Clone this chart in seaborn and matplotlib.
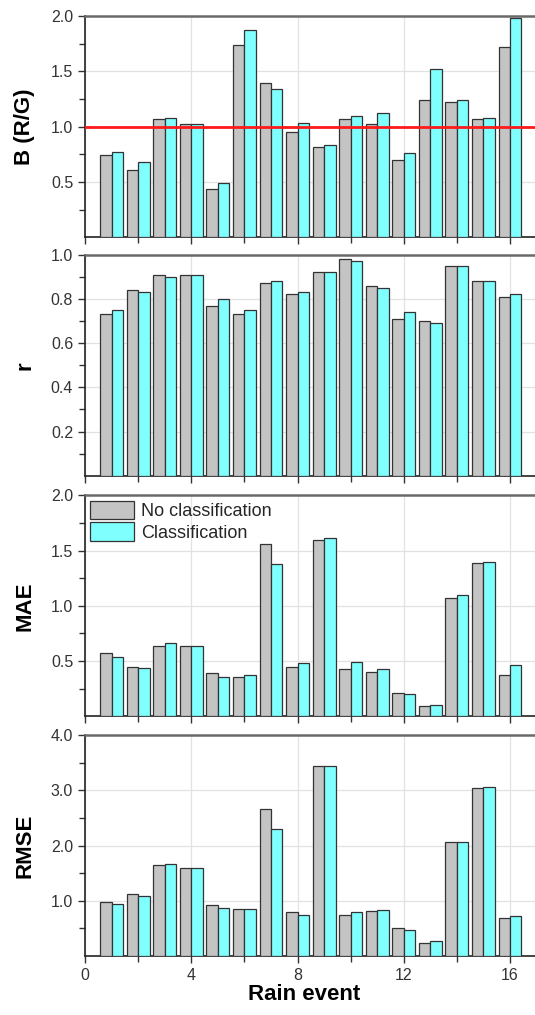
import numpy as np
import pandas as pd
import seaborn as sns
import matplotlib.pyplot as plt
from matplotlib.ticker import FixedLocator, FormatStrFormatter

# Rain events 1..16
events = list(range(1, 17))
b_nc = [0.74, 0.61, 1.07, 1.02, 0.44, 1.74, 1.39, 0.95, 0.82, 1.07, 1.02, 0.70, 1.24, 1.22, 1.07, 1.72]
b_c = [0.77, 0.68, 1.08, 1.02, 0.49, 1.87, 1.34, 1.03, 0.83, 1.10, 1.12, 0.76, 1.52, 1.24, 1.08, 1.98]
r_nc = [0.73, 0.84, 0.91, 0.91, 0.77, 0.73, 0.87, 0.82, 0.92, 0.98, 0.86, 0.71, 0.70, 0.95, 0.88, 0.81]
r_c = [0.75, 0.83, 0.90, 0.91, 0.80, 0.75, 0.88, 0.83, 0.92, 0.97, 0.85, 0.74, 0.69, 0.95, 0.88, 0.82]
mae_nc = [0.57, 0.45, 0.64, 0.64, 0.39, 0.36, 1.56, 0.45, 1.60, 0.43, 0.40, 0.21, 0.09, 1.07, 1.39, 0.37]
mae_c = [0.54, 0.44, 0.66, 0.64, 0.36, 0.37, 1.38, 0.48, 1.61, 0.49, 0.43, 0.20, 0.10, 1.10, 1.40, 0.46]
rmse_nc = [0.98, 1.12, 1.64, 1.60, 0.92, 0.85, 2.66, 0.79, 3.43, 0.75, 0.81, 0.51, 0.24, 2.06, 3.04, 0.68]
rmse_c = [0.95, 1.09, 1.67, 1.59, 0.87, 0.85, 2.29, 0.75, 3.43, 0.80, 0.83, 0.47, 0.27, 2.06, 3.05, 0.73]

series = ["No classification", "Classification"]
panel_labels = ["B (R/G)", "r", "MAE", "RMSE"]
panel_data = [(b_nc, b_c), (r_nc, r_c), (mae_nc, mae_c), (rmse_nc, rmse_c)]
panel_ylim = [2.0, 1.0, 2.0, 4.0]
panel_major = [[0.5, 1.0, 1.5, 2.0], [0.2, 0.4, 0.6, 0.8, 1.0],
               [0.5, 1.0, 1.5, 2.0], [1.0, 2.0, 3.0, 4.0]]
panel_minor = [[0.25, 0.75, 1.25, 1.75], [0.1, 0.3, 0.5, 0.7, 0.9],
               [0.25, 0.75, 1.25, 1.75], [0.5, 1.5, 2.5, 3.5]]

sns.set_theme(style="white")
plt.rcParams['font.family'] = ['Liberation Sans', 'DejaVu Sans']

palette = {"No classification": "#c4c4c4", "Classification": "#80ffff"}

fig = plt.figure(figsize=(5.35, 10.15), dpi=100)
W, H = 535.0, 1015.0
left_px, width_px = 85, 451.6
panel_px = [(16, 237.3), (254.7, 475.7), (495.3, 716.3), (735, 956)]

for i, (label, (nc, cl)) in enumerate(zip(panel_labels, panel_data)):
    top, bottom = panel_px[i]
    ax = fig.add_axes([left_px / W, 1 - bottom / H, width_px / W, (bottom - top) / H])

    df = pd.DataFrame({
        "event": events * 2,
        "value": nc + cl,
        "series": [series[0]] * len(events) + [series[1]] * len(events),
    })
    sns.barplot(data=df, x="event", y="value", hue="series", hue_order=series,
                palette=palette, native_scale=True, width=0.86, saturation=1,
                edgecolor="#333333", linewidth=0.9, errorbar=None,
                legend=(i == 2), ax=ax, zorder=3)

    if i == 0:
        ax.axhline(1.0, color="#ff1a1a", lw=2.0, zorder=4)

    ax.set_xlim(0, 17)
    ax.set_ylim(0, panel_ylim[i])
    ax.set_xticks([0, 4, 8, 12, 16])
    ax.xaxis.set_minor_locator(FixedLocator([2, 6, 10, 14]))
    ax.set_yticks(panel_major[i])
    ax.yaxis.set_minor_locator(FixedLocator(panel_minor[i]))
    ax.yaxis.set_major_formatter(FormatStrFormatter("%.1f"))

    ax.grid(True, which="major", color="#e2e2e2", lw=0.9, zorder=0)
    ax.set_axisbelow(True)

    ax.tick_params(axis="both", which="both", direction="out", colors="#333333",
                   labelsize=11.5, bottom=True, left=True)
    ax.tick_params(axis="both", which="major", length=5, width=1)
    ax.tick_params(axis="both", which="minor", length=4, width=1)
    if i < 3:
        ax.tick_params(axis="x", which="both", labelbottom=False)

    for side in ["left", "bottom"]:
        ax.spines[side].set_color("#222222")
        ax.spines[side].set_linewidth(1.2)
    ax.spines["top"].set_color("#6a6a6a")
    ax.spines["top"].set_linewidth(1.8)
    ax.spines["right"].set_visible(False)

    ax.set_ylabel(label, fontsize=16, fontweight="bold", color="black")
    ax.yaxis.set_label_coords(-0.11, 0.5)

    if i == 3:
        ax.set_xlabel("Rain event", fontsize=16, fontweight="bold", color="black")
        ax.xaxis.set_label_coords(0.485, -0.125)
    else:
        ax.set_xlabel("")

    if i == 2:
        ax.legend(loc="upper left", frameon=False, fontsize=13,
                  handlelength=2.4, handleheight=1.2, handletextpad=0.4,
                  labelspacing=0.12, borderaxespad=0.2, borderpad=0.1,
                  title=None)

fig.savefig("out.png", dpi=100)
